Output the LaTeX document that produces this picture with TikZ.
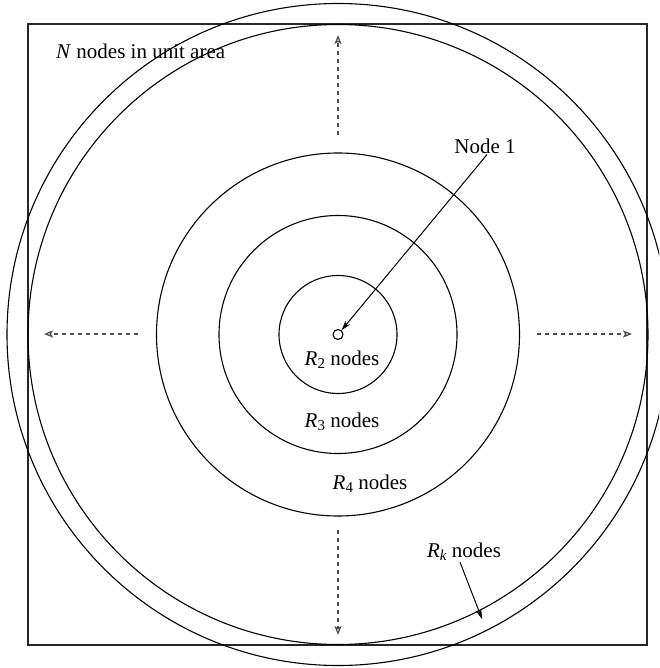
\documentclass[tikz,border=0pt]{standalone}
\usepackage{fontspec}
\setmainfont{Liberation Serif}
\usetikzlibrary{arrows.meta}
\tikzset{
  ring/.style={draw=black, line width=1.1pt},
  dasharrow/.style={draw=black!70, line width=1.2pt, dash pattern=on 4pt off 4pt, -{Stealth[open, length=9pt, width=7pt, inset=2pt]}},
  pointer/.style={draw=black, line width=1pt, -{Stealth[length=10pt, width=6pt]}},
  lab/.style={font=\fontsize{21}{25}\selectfont, inner sep=1pt},
}
\newcommand{\Rsub}[1]{\textit{R}\raisebox{-0.35ex}{\fontsize{15}{17}\selectfont #1}}
\begin{document}
\begin{tikzpicture}[x=1pt, y=-1pt]
\useasboundingbox (0,0) rectangle (659,668);
\clip (0,0) rectangle (659,668);
% unit square
\draw[line width=1.3pt, draw=black!85] (28,24) rectangle (647,645);
\coordinate (c) at (338,334.5);
% rings
\draw[ring] (c) circle[radius=59];
\draw[ring] (c) circle[radius=119];
\draw[ring] (c) circle[radius=181.5];
\draw[ring] (c) circle[radius=310];
\draw[ring] (c) circle[radius=331];
% node 1
\node[draw=black, line width=1.1pt, circle, minimum size=10pt, inner sep=0pt] (n1) at (c) {};
% labels
\node[lab, anchor=west] (nlab) at (55,51) {\textit{N} nodes in unit area};
\node[lab] (node1lab) at (485,146) {Node 1};
\node[lab] (r2lab) at (342,360) {\Rsub{2} nodes};
\node[lab] (r3lab) at (342,422) {\Rsub{3} nodes};
\node[lab] (r4lab) at (370,484) {\Rsub{4} nodes};
\node[lab] (rklab) at (464,552) {\Rsub{\textit{k}} nodes};
% pointers
\coordinate (rkend) at (482,619);
\draw[pointer] ([xshift=-4pt]rklab.south) -- (rkend);
\draw[pointer] ([xshift=2pt]node1lab.south) -- (n1);
% expansion arrows
\coordinate (us) at (338,135); \coordinate (ue) at (338,35);
\coordinate (ls) at (138,334); \coordinate (le) at (44,334);
\coordinate (rs) at (537,334); \coordinate (re) at (632,334);
\coordinate (ds) at (338,530); \coordinate (de) at (338,635);
\draw[dasharrow] (us) -- (ue);
\draw[dasharrow] (ls) -- (le);
\draw[dasharrow] (rs) -- (re);
\draw[dasharrow] (ds) -- (de);
\end{tikzpicture}
\end{document}
